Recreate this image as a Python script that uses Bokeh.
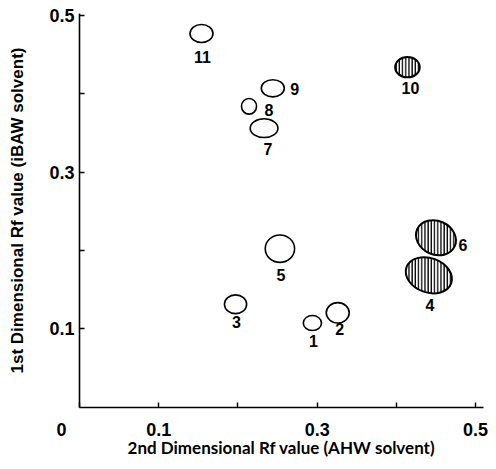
from bokeh.plotting import figure
from bokeh.models import ColumnDataSource, FixedTicker, Range1d
from bokeh.core.properties import value
from bokeh.embed import file_html
from bokeh.resources import INLINE
import math

# ---- data (Rf values of spots) ----
spot_id   = ["1", "2", "3", "4", "5", "6", "7", "8", "9", "10", "11"]
rf_2nd    = [0.294, 0.326, 0.197, 0.441, 0.253, 0.450, 0.233, 0.214, 0.244, 0.414, 0.154]   # AHW solvent (x)
rf_1st    = [0.107, 0.120, 0.131, 0.168, 0.202, 0.216, 0.356, 0.384, 0.407, 0.434, 0.477]   # iBAW solvent (y)
spot_w    = [0.023, 0.029, 0.028, 0.060, 0.037, 0.052, 0.035, 0.019, 0.029, 0.031, 0.029]
spot_h    = [0.019, 0.026, 0.024, 0.044, 0.035, 0.043, 0.024, 0.020, 0.022, 0.026, 0.023]
hatched   = [False, False, False, True, False, True, False, False, False, True, False]
x_ticks   = [0.0, 0.1, 0.2, 0.3, 0.4, 0.5]
y_ticks   = [0.1, 0.2, 0.3, 0.4, 0.5]
x_tick_text = {0: "0", 0.1: "0.1", 0.2: "", 0.3: "0.3", 0.4: "", 0.5: "0.5"}
y_tick_text = {0.1: "0.1", 0.2: "", 0.3: "0.3", 0.4: "", 0.5: "0.5"}

# ---- layout (styling only) ----
angle_deg = {"4": -20, "6": -25}
lab_dx = {"1": 1, "2": 2, "3": 1, "4": 1, "5": 1, "6": 27, "7": 4, "8": 20, "9": 22, "10": 3, "11": 1}
lab_dy = {"1": 18, "2": 16, "3": 18, "4": 30, "5": 26, "6": 7, "7": 21, "8": 4, "9": 1, "10": 21, "11": 23}
# the origin "0" sits left of the corner: pad it with en spaces so its centre shifts left
x_tick_text = {k: (v + "\u2002\u2002\u2002\u2002" if k == 0 else v) for k, v in x_tick_text.items()}


def build(mask):
    idx = [i for i, m in enumerate(hatched) if m == mask]
    return ColumnDataSource(dict(
        x=[rf_2nd[i] for i in idx], y=[rf_1st[i] for i in idx],
        w=[spot_w[i] for i in idx], h=[spot_h[i] for i in idx],
        a=[math.radians(angle_deg.get(spot_id[i], 0)) for i in idx],
    ))

p = figure(width=488, height=468, output_backend="svg", toolbar_location=None,
           x_range=Range1d(0.0, 0.51), y_range=Range1d(-0.001, 0.5026),
           min_border_left=79, min_border_right=5, min_border_top=13, min_border_bottom=61)
p.outline_line_color = None
p.grid.visible = False
p.background_fill_color = "white"
p.border_fill_color = "white"

open_src = build(False)
hat_src = build(True)
p.ellipse(x="x", y="y", width="w", height="h", angle="a", source=open_src,
          fill_color=None, line_color="black", line_width=1.6)
p.ellipse(x="x", y="y", width="w", height="h", angle="a", source=hat_src,
          fill_color="white", line_color="black", line_width=2,
          hatch_pattern="|", hatch_color="black", hatch_weight=1.4, hatch_scale=3.2)

lab_src = ColumnDataSource(dict(
    x=rf_2nd, y=rf_1st, t=spot_id,
    dx=[lab_dx[s] for s in spot_id], dy=[lab_dy[s] for s in spot_id]))
p.text(x="x", y="y", text="t", x_offset="dx", y_offset="dy", source=lab_src,
       text_font=value("Liberation Sans"), text_font_style="bold", text_font_size="16px",
       text_align="center", text_baseline="middle", text_color="black")

for ax, ticks, labels in ((p.xaxis, x_ticks, x_tick_text), (p.yaxis, y_ticks, y_tick_text)):
    ax.ticker = FixedTicker(ticks=ticks)
    ax.major_label_overrides = labels
    ax.minor_tick_line_color = None
    ax.major_tick_in = 5
    ax.major_tick_out = 0
    ax.axis_line_width = 1.6
    ax.major_tick_line_width = 1.4
    ax.axis_line_color = "black"
    ax.major_tick_line_color = "black"
    ax.major_label_text_font = "Liberation Sans"
    ax.major_label_text_font_style = "bold"
    ax.major_label_text_font_size = "18px"
    ax.major_label_text_color = "black"
    ax.axis_label_text_color = "black"
    ax.axis_label_text_font_style = "bold"

p.xaxis.axis_label = "2nd Dimensional Rf value (AHW solvent)"
p.xaxis.axis_label_text_font = "Lato"
p.xaxis.axis_label_text_font_size = "17px"
p.xaxis.major_label_standoff = 12
p.xaxis.axis_label_standoff = -6

p.yaxis.axis_label = "1st Dimensional Rf value (iBAW solvent)"
p.yaxis.axis_label_text_font = "Liberation Sans"
p.yaxis.axis_label_text_font_size = "17px"
p.yaxis.major_label_standoff = 5
p.yaxis.axis_label_standoff = 19

open("out.html", "w").write(file_html(p, INLINE))
